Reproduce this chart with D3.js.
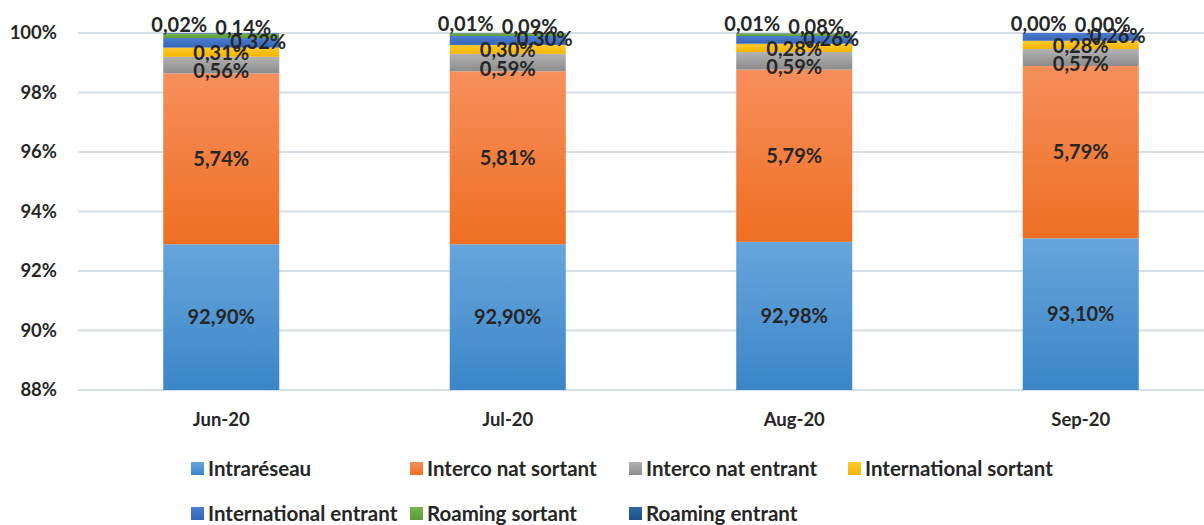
<!DOCTYPE html>
<html>
<head>
<meta charset="utf-8">
<script src="https://cdn.jsdelivr.net/npm/d3@7"></script>
<style>
  body { margin: 0; background: #fff; }
  svg text { font-family: Lato, "Open Sans", sans-serif; font-weight: 700; fill: #262626; }
</style>
</head>
<body>
<div class="chart-wrapper"></div>
<script>
// months on the x axis
var months = ["Jun-20", "Jul-20", "Aug-20", "Sep-20"];
// series, bottom to top (values in %)
var seriesNames = ["Intraréseau", "Interco nat sortant", "Interco nat entrant", "International sortant",
  "International entrant", "Roaming sortant", "Roaming entrant"];
var intrareseau = [92.90, 92.90, 92.98, 93.10];
var intercoNatSortant = [5.74, 5.81, 5.79, 5.79];
var intercoNatEntrant = [0.56, 0.59, 0.59, 0.57];
var internationalSortant = [0.31, 0.30, 0.28, 0.28];
var internationalEntrant = [0.32, 0.30, 0.26, 0.26];
var roamingSortant = [0.14, 0.09, 0.08, 0.00];
var roamingEntrant = [0.02, 0.01, 0.01, 0.00];
var yTicks = [88, 90, 92, 94, 96, 98, 100];

var seriesValues = [intrareseau, intercoNatSortant, intercoNatEntrant, internationalSortant,
  internationalEntrant, roamingSortant, roamingEntrant];

//gradient colours for each series (top, bottom)
var colors = [
  ["#67a5dc", "#3b86c8"],
  ["#f78f5c", "#ee6f22"],
  ["#b2b2b2", "#8c8c8c"],
  ["#ffca30", "#f4b400"],
  ["#4c7dd0", "#3565b6"],
  ["#76b64c", "#5c9a37"],
  ["#2c6ba4", "#1e5084"]
];
//label nudges so the thin segments do not hide each other
var labelShift = [[0, 0], [0, 0], [0, 6], [0, 1], [37, -1], [22, -8], [-42, -9]];

var width = 1204, height = 525;

var svg = d3.select(".chart-wrapper").append("svg")
  .attr("width", width)
  .attr("height", height);

var defs = svg.append("defs");
colors.forEach(function(c, i) {
  var g = defs.append("linearGradient")
    .attr("id", "grad" + i)
    .attr("x1", 0).attr("y1", 0).attr("x2", 0).attr("y2", 1);
  g.append("stop").attr("offset", "0%").attr("stop-color", c[0]);
  g.append("stop").attr("offset", "100%").attr("stop-color", c[1]);
});

var x = d3.scaleBand()
  .domain(months)
  .range([78, 1224])
  .paddingInner(0.595)
  .paddingOuter(0.2975);

var y = d3.scaleLinear()
  .domain([88, 100])
  .range([390, 33]);

//gridlines
svg.append("g").selectAll("line")
  .data(yTicks)
  .enter().append("line")
  .attr("x1", 78)
  .attr("x2", width)
  .attr("y1", function(d) { return y(d); })
  .attr("y2", function(d) { return y(d); })
  .attr("stroke", "#d6dee7")
  .attr("stroke-width", 2);

//y axis labels
svg.append("g").selectAll("text")
  .data(yTicks)
  .enter().append("text")
  .attr("x", 57)
  .attr("y", function(d) { return y(d); })
  .attr("dy", "0.35em")
  .attr("text-anchor", "end")
  .style("font-size", "18.5px")
  .text(function(d) { return d + "%"; });

//build the stack
var rows = months.map(function(m, i) {
  var row = { month: m };
  seriesNames.forEach(function(s, j) { row[s] = seriesValues[j][i]; });
  return row;
});
var stacked = d3.stack().keys(seriesNames)(rows);

var layer = svg.append("g").selectAll("g")
  .data(stacked)
  .enter().append("g")
  .attr("fill", function(d, i) { return "url(#grad" + i + ")"; });

layer.selectAll("rect")
  .data(function(d) { return d; })
  .enter().append("rect")
  .attr("x", function(d) { return x(d.data.month); })
  .attr("width", x.bandwidth())
  .attr("y", function(d) { return y(Math.min(d[1], 100)); })
  .attr("height", function(d) { return Math.max(0, y(Math.max(d[0], 88)) - y(Math.min(d[1], 100))); });

var fmt = function(v) { return d3.format(".2f")(v).replace(".", ",") + "%"; };

//data labels
var labels = svg.append("g");
stacked.forEach(function(s, i) {
  labels.selectAll(".lbl" + i)
    .data(s)
    .enter().append("text")
    .attr("class", "lbl" + i)
    .attr("x", function(d) { return x(d.data.month) + x.bandwidth() / 2 + labelShift[i][0]; })
    .attr("y", function(d) { return y((Math.max(d[0], 88) + Math.min(d[1], 100)) / 2) + labelShift[i][1]; })
    .attr("dy", "0.35em")
    .attr("text-anchor", "middle")
    .style("font-size", "20px")
    .text(function(d) { return fmt(d[1] - d[0]); });
});

//x axis labels
svg.append("g").selectAll("text")
  .data(months)
  .enter().append("text")
  .attr("x", function(d) { return x(d) + x.bandwidth() / 2; })
  .attr("y", 420)
  .attr("dy", "0.35em")
  .attr("text-anchor", "middle")
  .style("font-size", "18.5px")
  .text(function(d) { return d; });

//legend
var legend = svg.append("g").selectAll("g")
  .data(seriesNames)
  .enter().append("g")
  .attr("transform", function(d, i) {
    return "translate(" + (191 + (i % 4) * 219) + "," + (469 + Math.floor(i / 4) * 45) + ")";
  });

legend.append("rect")
  .attr("x", 0)
  .attr("y", -7)
  .attr("width", 13)
  .attr("height", 13)
  .attr("fill", function(d, i) { return "url(#grad" + i + ")"; });

legend.append("text")
  .attr("x", 17)
  .attr("y", 0)
  .attr("dy", "0.35em")
  .style("font-size", "20.5px")
  .text(function(d) { return d; });
</script>
</body>
</html>
